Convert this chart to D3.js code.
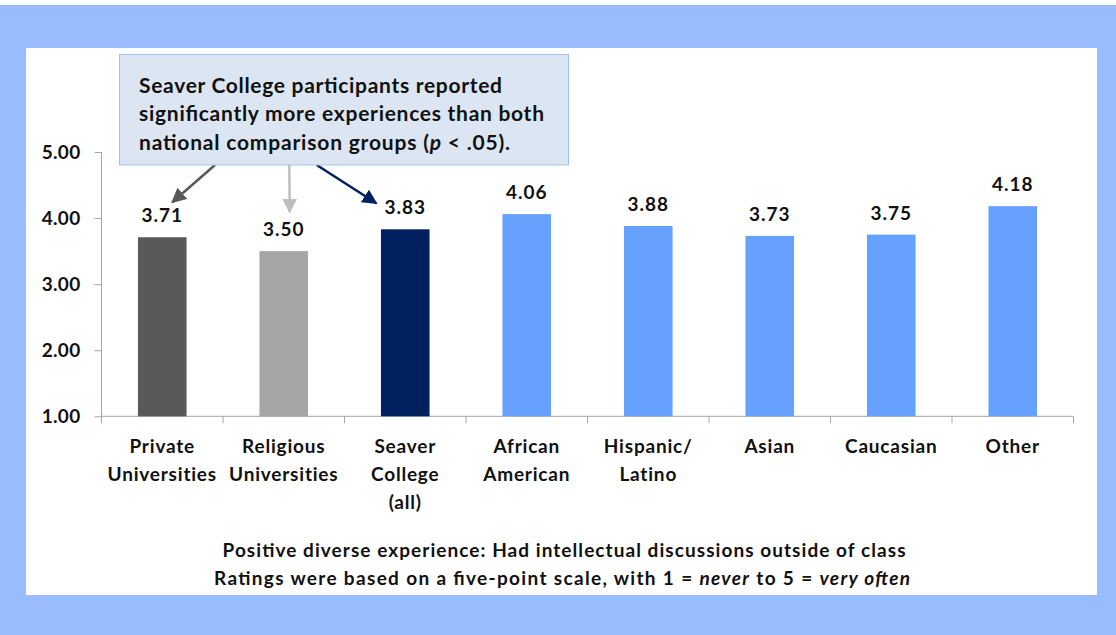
<!DOCTYPE html>
<html><head><meta charset="utf-8">
<script src="https://cdn.jsdelivr.net/npm/d3@7"></script>
<style>
html,body{margin:0;padding:0;background:#fff;}
svg{display:block;font-family:Lato,"Open Sans",sans-serif;}
</style></head>
<body>
<svg id="chart" width="1116" height="635"></svg>
<script>
const categories = [["Private","Universities"],["Religious","Universities"],["Seaver","College","(all)"],["African","American"],["Hispanic/","Latino"],["Asian"],["Caucasian"],["Other"]];
const values = [3.71, 3.50, 3.83, 4.06, 3.88, 3.73, 3.75, 4.18];
const barColors = ["#595959","#A6A6A6","#002060","#66A1FF","#66A1FF","#66A1FF","#66A1FF","#66A1FF"];
const yTicks = [1,2,3,4,5];
const calloutLines = ["Seaver College participants reported","significantly more experiences than both","national comparison groups (<tspan font-style='italic'>p</tspan> &lt; .05)."];
const footer1 = "Positive diverse experience: Had intellectual discussions outside of class";
const footer2 = "Ratings were based on a five-point scale, with 1 = <tspan font-style='italic'>never</tspan> to 5 = <tspan font-style='italic'>very often</tspan>";

const svg = d3.select("#chart");
svg.append("rect").attr("x",0).attr("y",5).attr("width",1116).attr("height",630).attr("fill","#99BCFF");
svg.append("rect").attr("x",26).attr("y",48).attr("width",1071).attr("height",547).attr("fill","#fff");

const pL = 101.5, pR = 1073.5, pT = 152, pB = 416.3;
const x = d3.scaleBand().domain(d3.range(categories.length)).range([pL,pR]).paddingInner(0.6).paddingOuter(0.3);
const xb = d3.scaleBand().domain(d3.range(categories.length)).range([pL,pR]);
const y = d3.scaleLinear().domain([1,5]).range([pB,pT]);

const ya = svg.append("g").attr("transform",`translate(${pL},0)`)
  .call(d3.axisLeft(y).tickValues(yTicks).tickFormat(d3.format(".2f")).tickSize(7).tickPadding(14));
ya.select(".domain").attr("stroke","#A6A6A6").attr("d",`M0,${pT}V${pB+7}`);
ya.selectAll(".tick line").attr("stroke","#A6A6A6");
ya.selectAll(".tick text").attr("fill","#111").attr("font-size",19).attr("font-weight","bold").attr("font-family","Lato").attr("letter-spacing",0.3);

const xa = svg.append("g").attr("transform",`translate(0,${pB})`);
xa.append("line").attr("x1",pL).attr("x2",pR).attr("stroke","#A6A6A6");
xa.selectAll("line.t").data(d3.range(categories.length+1)).join("line").attr("class","t")
  .attr("x1",i=>pL+i*xb.bandwidth()).attr("x2",i=>pL+i*xb.bandwidth()).attr("y1",0).attr("y2",7).attr("stroke","#A6A6A6");
const xl = xa.selectAll("text").data(categories).join("text")
  .attr("text-anchor","middle").attr("font-size",19).attr("font-weight","bold").attr("fill","#111")
  .attr("letter-spacing",0.8)
  .attr("x",(d,i)=>xb(i)+xb.bandwidth()/2).attr("y",37);
xl.selectAll("tspan").data(d=>d).join("tspan").attr("x",function(){return this.parentNode.getAttribute("x");})
  .attr("dy",(d,i)=>i===0?0:28).text(d=>d);

svg.selectAll("rect.bar").data(values).join("rect").attr("class","bar")
  .attr("x",(d,i)=>x(i)).attr("width",x.bandwidth())
  .attr("y",d=>y(d)).attr("height",d=>pB-y(d)).attr("fill",(d,i)=>barColors[i]);
svg.selectAll("text.val").data(values).join("text").attr("class","val")
  .attr("x",(d,i)=>x(i)+x.bandwidth()/2).attr("y",d=>y(d)-15)
  .attr("text-anchor","middle").attr("font-size",19).attr("font-weight","bold").attr("fill","#111")
  .attr("letter-spacing",1)
  .text(d=>d3.format(".2f")(d));

const defs = svg.append("defs");
const arrows = [
  {i:0, color:"#595959", x0:215, dx:10, dy:35},
  {i:1, color:"#BFBFBF", x0:289.3, dx:6, dy:39},
  {i:2, color:"#002060", x0:316.7, dx:-29, dy:26}
];
arrows.forEach((a,k)=>{
  defs.append("marker").attr("id","ah"+k).attr("viewBox","0 0 10 10").attr("refX",9).attr("refY",5)
    .attr("markerWidth",6).attr("markerHeight",6).attr("markerUnits","strokeWidth").attr("orient","auto")
    .append("path").attr("d","M0,0L10,5L0,10z").attr("fill",a.color);
  const cx = x(a.i)+x.bandwidth()/2;
  svg.append("line").attr("x1",a.x0).attr("y1",165).attr("x2",cx+a.dx).attr("y2",y(values[a.i])-a.dy)
    .attr("stroke",a.color).attr("stroke-width",2.5).attr("marker-end",`url(#ah${k})`);
});

svg.append("rect").attr("x",119.5).attr("y",54.5).attr("width",449).attr("height",110.5)
  .attr("fill","#DCE6F2").attr("stroke","#9DC3F0").attr("stroke-width",1);
const ct = svg.append("text").attr("font-size",21).attr("font-weight","bold").attr("fill","#111");
const calloutWidths = [363, 405, 371];
calloutLines.forEach((l,i)=>{
  ct.append("tspan").attr("x",139).attr("y",93+i*28.3).attr("textLength",calloutWidths[i]).attr("lengthAdjust","spacing").html(l);
});

const ft = svg.append("text").attr("text-anchor","middle").attr("font-size",19).attr("font-weight","bold").attr("fill","#111");
ft.append("tspan").attr("x",564).attr("y",557).attr("textLength",683).attr("lengthAdjust","spacing").html(footer1);
ft.append("tspan").attr("x",562).attr("y",585).attr("textLength",696).attr("lengthAdjust","spacing").html(footer2);
</script>
</body></html>
